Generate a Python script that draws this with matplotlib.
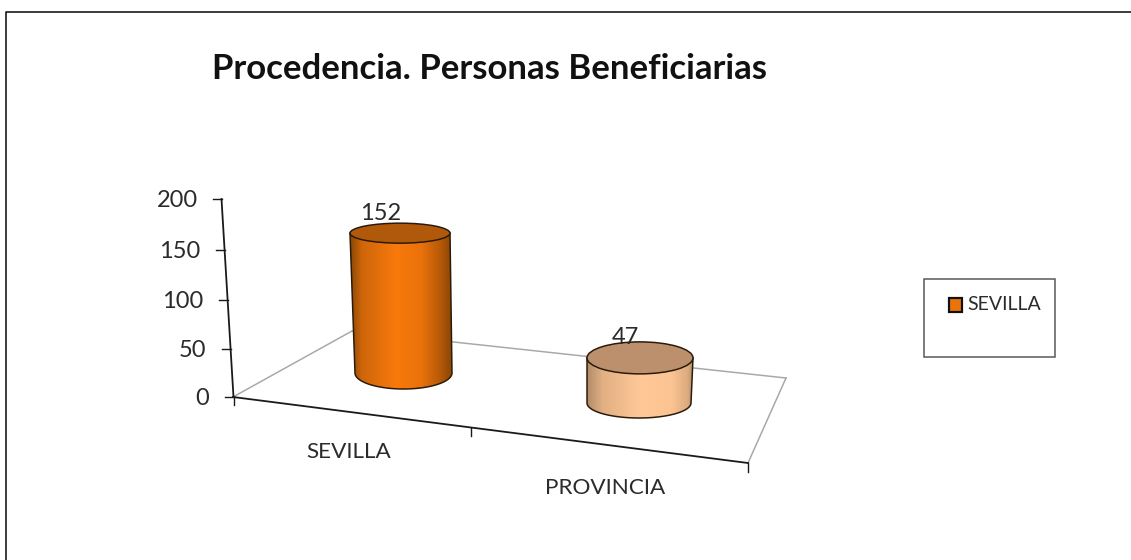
import numpy as np
import matplotlib
matplotlib.use("Agg")
import matplotlib.pyplot as plt
from matplotlib.colors import LinearSegmentedColormap
from matplotlib.patches import Ellipse, Polygon, Rectangle

title = "Procedencia. Personas Beneficiarias"
categories = ["SEVILLA", "PROVINCIA"]
values = [152, 47]
y_ticks = [0, 50, 100, 150, 200]
legend_labels = ["SEVILLA"]

plt.rcParams['font.family'] = ['Lato', 'DejaVu Sans']
TEXT = "#2b2b2b"
AXIS = "#1a1a1a"
PX = 0.72  # one pixel in points

fig = plt.figure(figsize=(11.31, 5.6), dpi=100)
ax = fig.add_axes([0, 0, 1, 1])
ax.set_xlim(0, 1131)
ax.set_ylim(560, 0)
ax.axis("off")

# outer frame, cut by the picture on the right and bottom
ax.plot([6, 6, 1131], [560, 12, 12], color="#111111", lw=1.6 * PX)
ax.text(212, 69, title, fontsize=25, fontweight="bold", color="#111111", va="center", ha="left")

# floor of the 3d box
ax.plot([233, 352], [397, 331], color="#a8a8a8", lw=1.5 * PX, zorder=1)
ax.plot([352, 786], [331, 378], color="#a8a8a8", lw=1.5 * PX, zorder=1)
ax.plot([786, 748], [378, 463], color="#a8a8a8", lw=1.5 * PX, zorder=1)
ax.plot([233, 748], [397, 463], color=AXIS, lw=1.8 * PX, zorder=2)
ax.plot([234, 234], [397, 405], color=AXIS, lw=1.4 * PX, zorder=2)
ax.plot([471, 471], [428, 436], color=AXIS, lw=1.4 * PX, zorder=2)
ax.plot([748, 748], [463, 472], color=AXIS, lw=1.4 * PX, zorder=2)


# value axis, leaning back a little, with a bit of perspective
def axis_x(v):
    return 233.5 - v * 0.06


def axis_y(v):
    return 397 - (0.96 * v + 0.00015 * v * v)


ax.plot([axis_x(0), axis_x(200)], [axis_y(0), axis_y(200)], color=AXIS, lw=1.8 * PX, zorder=2)
for v in y_ticks:
    ax.plot([axis_x(v) - 9, axis_x(v)], [axis_y(v), axis_y(v)], color=AXIS, lw=1.4 * PX, zorder=2)
    ax.text(axis_x(v) - 24, axis_y(v) + 1.5, str(v), fontsize=17, color=TEXT, ha="right", va="center")

ax.text(349, 452, categories[0], fontsize=16.2, color=TEXT, ha="center", va="center")
ax.text(605, 488, categories[1], fontsize=16.2, color=TEXT, ha="center", va="center")


def cylinder(value, cx, base_y, px_per_unit, w_top, w_base, h_top, h_base, top_dx, side_colors, top_color):
    top_y = base_y - value * px_per_unit
    top_cx = cx + top_dx
    t = np.linspace(0, np.pi, 60)
    xs = np.r_[top_cx - w_top / 2, cx + w_base / 2 * np.cos(t[::-1]), top_cx + w_top / 2]
    ys = np.r_[top_y, base_y + h_base / 2 * np.sin(t[::-1]), top_y]
    side = Polygon(np.c_[xs, ys], closed=True, facecolor="none", edgecolor="#2a1a0a", lw=1.5 * PX, zorder=4)
    ax.add_patch(side)
    cmap = LinearSegmentedColormap.from_list("side", side_colors)
    grad = np.linspace(0, 1, 256).reshape(1, -1)
    left = min(top_cx - w_top / 2, cx - w_base / 2)
    right = max(top_cx + w_top / 2, cx + w_base / 2)
    im = ax.imshow(grad, cmap=cmap, extent=[left, right, base_y + h_base, top_y - 2], aspect="auto", zorder=3)
    im.set_clip_path(side)
    ax.add_patch(Ellipse((top_cx, top_y), w_top, h_top, facecolor=top_color, edgecolor="#2a1a0a", lw=1.5 * PX, zorder=5))
    return top_y


cylinder(values[0], 403.5, 373, 0.92, 100, 97, 20, 32, -3.5,
         [(0, "#8a4706"), (0.12, "#cf660a"), (0.45, "#f8790c"), (0.7, "#ea720b"),
          (0.88, "#b95a08"), (1, "#8a4706")], "#b0590a")
cylinder(values[1], 639, 403, 0.96, 106, 104, 32, 30, 1,
         [(0, "#b08c68"), (0.15, "#e2b084"), (0.5, "#ffc896"), (0.8, "#fcc492"),
          (0.95, "#dcab80"), (1, "#b89470")], "#bc906c")

ax.text(381, 213, str(values[0]), fontsize=17, color=TEXT, ha="center", va="center", zorder=6)
ax.text(625, 338, str(values[1]), fontsize=17, color=TEXT, ha="center", va="center", zorder=6)

# legend box
ax.add_patch(Rectangle((924, 279), 131, 78, facecolor="white", edgecolor="#555555", lw=1.5 * PX))
ax.add_patch(Rectangle((949, 298), 13, 14, facecolor="#ea7409", edgecolor="#111111", lw=2.2 * PX))
ax.text(967, 305, legend_labels[0], fontsize=14, color=TEXT, ha="left", va="center")

fig.savefig("out.png", dpi=100)
